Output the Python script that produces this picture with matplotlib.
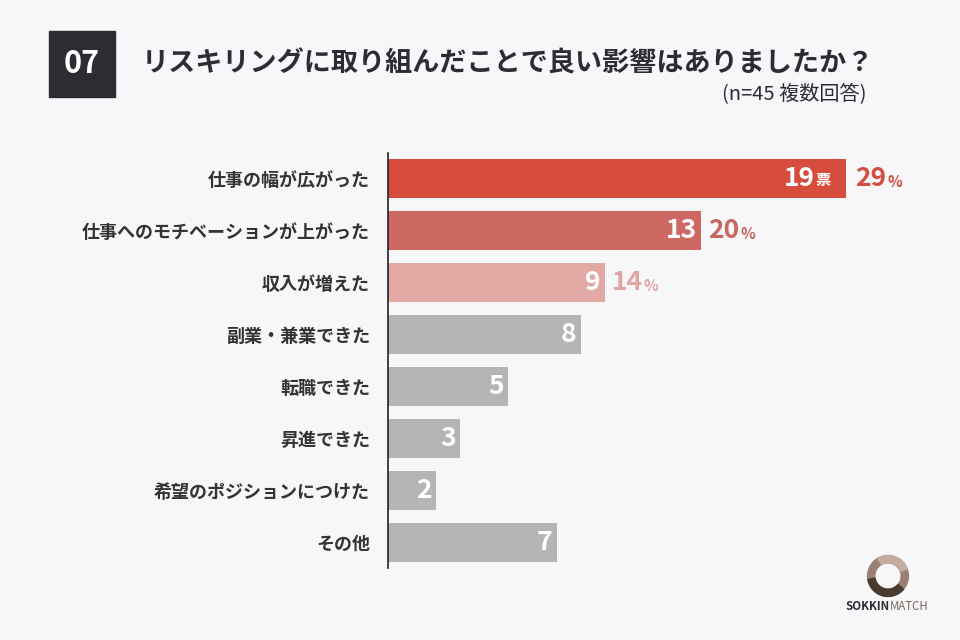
import matplotlib
matplotlib.use("Agg")
import matplotlib.pyplot as plt
from matplotlib.patches import Rectangle, Wedge

plt.rcParams['font.family'] = ['Noto Sans CJK JP', 'DejaVu Sans']

# data
labels = ["仕事の幅が広がった", "仕事へのモチベーションが上がった", "収入が増えた",
          "副業・兼業できた", "転職できた", "昇進できた", "希望のポジションにつけた", "その他"]
votes = [19, 13, 9, 8, 5, 3, 2, 7]
pcts = ["29", "20", "14", None, None, None, None, None]
bar_colors = ["#d64c3d", "#cd6862", "#e3a9a5"] + ["#b5b5b5"] * 5
pct_colors = ["#d24e40", "#c96661", "#dfa7a2"]

bg = "#f7f7f9"
fig = plt.figure(figsize=(9.6, 6.4), dpi=100, facecolor=bg)

# header
fig.patches.append(Rectangle((49/960, 1-97/640), 66/960, 66/640, transform=fig.transFigure,
                             color="#2b2d33", zorder=0))
fig.text(82/960, 1-64/640, "07", color="white", fontsize=22, fontweight="bold",
         ha="center", va="center")
fig.text(142/960, 1-63/640, "リスキリングに取り組んだことで良い影響はありましたか？",
         fontsize=19.5, fontweight="bold", color="#2b2d33", ha="left", va="center")
fig.text(866/960, 1-95/640, "(n=45 複数回答)", fontsize=14.5, color="#2b2d33",
         ha="right", va="center")

# bars
ax = fig.add_axes([388/960, 1-568/640, 530/960, 415/640])
ax.set_facecolor(bg)
y = list(range(len(labels)))
ax.barh(y, votes, height=0.75, color=bar_colors)
ax.set_xlim(0, 22)
ax.set_ylim(7.5, -0.5)
for s in ["top", "right", "bottom"]:
    ax.spines[s].set_visible(False)
ax.spines["left"].set_color("#222222")
ax.spines["left"].set_linewidth(1.2)
ax.set_xticks([])
ax.set_yticks(y)
ax.set_yticklabels(labels, fontsize=13, fontweight="bold", color="#333333")
ax.tick_params(axis="y", length=0, pad=13)

for i, v in enumerate(votes):
    if i == 0:
        ax.annotate("票", (v, i), xytext=(-11, -1), textcoords="offset points",
                    ha="right", va="center", color="white", fontsize=11, fontweight="bold")
        ax.annotate(str(v), (v, i), xytext=(-22, 0), textcoords="offset points",
                    ha="right", va="center", color="white", fontsize=19, fontweight="bold")
    else:
        ax.annotate(str(v), (v, i), xytext=(-3, 0), textcoords="offset points",
                    ha="right", va="center", color="white", fontsize=19, fontweight="bold")
    if pcts[i] is not None:
        off = 7 if i == 0 else 5
        t = ax.annotate(pcts[i], (v, i), xytext=(off, 0), textcoords="offset points",
                        ha="left", va="center", color=pct_colors[i], fontsize=19,
                        fontweight="bold")
        fig.canvas.draw()
        bb = t.get_window_extent()
        fig.text(bb.x1/960 + 1/960, (bb.y0 + bb.y1)/2/640 - 3/640, "%", color=pct_colors[i],
                 fontsize=11, fontweight="bold", ha="left", va="center")

# logo
lax = fig.add_axes([858/960, 1-606/640, 60/960, 60/640])
lax.set_xlim(-1, 1); lax.set_ylim(-1, 1); lax.set_aspect("equal"); lax.axis("off")
lax.add_patch(Wedge((0, 0), 0.68, 0, 360, width=0.24, color="#9a8070"))
lax.add_patch(Wedge((0, 0), 0.68, 190, 320, width=0.24, color="#4a3a30"))
lax.add_patch(Wedge((0, 0), 0.68, 20, 120, width=0.24, color="#c2ad9e"))
fig.text(890/960, 1-607/640, "SOKKIN", fontsize=8.3, fontweight="bold", color="#2b2d33",
         ha="right", va="center")
fig.text(890/960, 1-607/640, "MATCH", fontsize=8.3, color="#7a6a60", ha="left", va="center")

fig.savefig("out.png", dpi=100, facecolor=bg)
